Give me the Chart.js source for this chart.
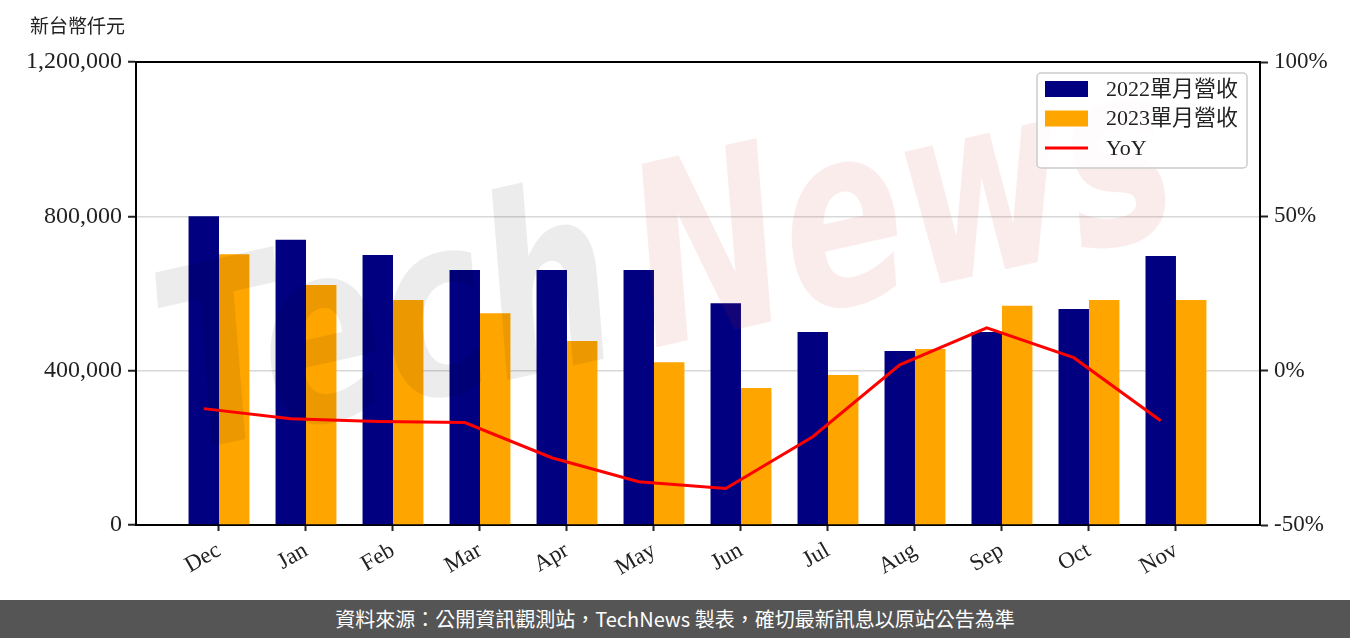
<!DOCTYPE html>
<html>
<head>
<meta charset="utf-8">
<script src="https://cdn.jsdelivr.net/npm/chart.js@4.4.1/dist/chart.umd.min.js"></script>
<style>
    body { margin: 0; background: #fff; }
    #wrap { width: 1350px; height: 600px; position: relative; }
    #footer {
        width: 1350px; height: 38px; background: #555555; color: #fff;
        font-family: "Noto Sans CJK TC", "Noto Sans", sans-serif; font-size: 20px;
        text-align: center; line-height: 38px;
    }
</style>
</head>
<body>
<div id="wrap"><canvas id="revenue-chart" width="1350" height="600"></canvas></div>
<div id="footer">資料來源：公開資訊觀測站，TechNews 製表，確切最新訊息以原站公告為準</div>
<script>
// Monthly revenue (NT$ thousand) and YoY (%)
const months = ["Dec", "Jan", "Feb", "Mar", "Apr", "May", "Jun", "Jul", "Aug", "Sep", "Oct", "Nov"];
const rev2022 = [800000, 739000, 700000, 661000, 661000, 661000, 575000, 500000, 451000, 500000, 560000, 697000];
const rev2023 = [702000, 622000, 583000, 549000, 477000, 422000, 355000, 389000, 456000, 568000, 583000, 583000];
const yoy = [-12.3, -15.6, -16.5, -16.8, -28.2, -36.0, -38.2, -21.4, 1.9, 13.9, 4.2, -16.2];
const leftTicks = [0, 400000, 800000, 1200000];
const rightTicks = [-50, 0, 50, 100];

const seriesNames = ["2022單月營收", "2023單月營收", "YoY"];
const seriesColors = ["#000080", "#FFA500", "#FF0000"];

const serif = "'Liberation Serif', 'Noto Sans CJK TC', serif";

// Function to format numbers with commas
function formatNumber(v) {
    return v.toLocaleString("en-US");
}

// Extra drawing: top spine, unit label, watermark, legend
const decorPlugin = {
    id: "decor",
    beforeDatasetDraw(chart, args) {
        if (args.index !== 2) return;
        const ctx = chart.ctx;
        ctx.save();
        ctx.font = "bold italic 250px 'DejaVu Sans', sans-serif";
        ctx.textBaseline = "middle";
        ctx.textAlign = "center";
        ctx.translate(390, 340);
        ctx.rotate(-0.22);
        ctx.scale(0.72, 1);
        ctx.fillStyle = "rgba(0,0,0,0.075)";
        ctx.fillText("Tech", 0, 0);
        ctx.restore();
        ctx.save();
        ctx.font = "bold italic 250px 'DejaVu Sans', sans-serif";
        ctx.textBaseline = "middle";
        ctx.textAlign = "center";
        ctx.translate(905, 225);
        ctx.rotate(-0.22);
        ctx.scale(0.72, 1);
        ctx.fillStyle = "rgba(210,40,40,0.09)";
        ctx.fillText("News", 0, 0);
        ctx.restore();
    },
    afterDraw(chart) {
        const ctx = chart.ctx;
        const area = chart.chartArea;
        ctx.save();
        // top spine
        ctx.strokeStyle = "#000";
        ctx.lineWidth = 2;
        ctx.beginPath();
        ctx.moveTo(area.left - 1, area.top);
        ctx.lineTo(area.right + 1, area.top);
        ctx.stroke();

        // unit label
        ctx.fillStyle = "#222";
        ctx.font = "19px " + serif;
        ctx.textBaseline = "middle";
        ctx.textAlign = "left";
        ctx.fillText("新台幣仟元", 30, 28);

        // legend
        const bx = 1037, by = 73, bw = 210, bh = 95;
        ctx.fillStyle = "rgba(255,255,255,0.85)";
        ctx.strokeStyle = "#cccccc";
        ctx.lineWidth = 1.5;
        ctx.beginPath();
        ctx.roundRect(bx, by, bw, bh, 4);
        ctx.fill();
        ctx.stroke();

        ctx.font = "22px " + serif;
        seriesNames.forEach((name, i) => {
            const cy = 89 + i * 29.5;
            if (i < 2) {
                ctx.fillStyle = seriesColors[i];
                ctx.fillRect(1045, cy - 8, 43, 16);
            } else {
                ctx.strokeStyle = seriesColors[i];
                ctx.lineWidth = 3;
                ctx.beginPath();
                ctx.moveTo(1045, cy);
                ctx.lineTo(1088, cy);
                ctx.stroke();
            }
            ctx.fillStyle = "#222";
            ctx.fillText(name, 1106, cy + 1);
        });
        ctx.restore();
    }
};

const ctx = document.getElementById("revenue-chart").getContext("2d");

new Chart(ctx, {
    type: "bar",
    data: {
        datasets: [
            {
                label: seriesNames[0],
                data: rev2022.map((v, i) => ({ x: i, y: v })),
                backgroundColor: seriesColors[0],
                categoryPercentage: 0.7,
                barPercentage: 1.0,
                yAxisID: "y",
                order: 2
            },
            {
                label: seriesNames[1],
                data: rev2023.map((v, i) => ({ x: i, y: v })),
                backgroundColor: seriesColors[1],
                categoryPercentage: 0.7,
                barPercentage: 1.0,
                yAxisID: "y",
                order: 2
            },
            {
                type: "line",
                label: seriesNames[2],
                data: yoy.map((v, i) => ({ x: i - 0.175, y: v })),
                borderColor: seriesColors[2],
                borderWidth: 3,
                pointRadius: 0,
                tension: 0,
                yAxisID: "y1",
                order: 1
            }
        ]
    },
    options: {
        responsive: false,
        animation: false,
        layout: { padding: { top: 62, left: 0, right: 0, bottom: 0 } },
        plugins: {
            legend: { display: false },
            tooltip: { enabled: false }
        },
        scales: {
            x: {
                type: "linear",
                offset: false,
                bounds: "data",
                min: -0.954,
                max: 11.966,
                afterBuildTicks: axis => { axis.ticks = months.map((m, i) => ({ value: i })); },
                afterFit: axis => { axis.height = 75; },
                ticks: {
                    autoSkip: false,
                    minRotation: 30,
                    maxRotation: 30,
                    padding: 6,
                    color: "#222",
                    font: { family: serif, size: 23 },
                    callback: v => months[v]
                },
                grid: { offset: false, drawOnChartArea: false, tickLength: 6, tickWidth: 2, tickColor: "#222" },
                border: { color: "#000", width: 2 }
            },
            y: {
                position: "left",
                min: 0,
                max: 1200000,
                afterBuildTicks: axis => { axis.ticks = leftTicks.map(v => ({ value: v })); },
                afterFit: axis => { axis.width = 136; },
                ticks: {
                    padding: 6,
                    color: "#222",
                    font: { family: serif, size: 24 },
                    callback: v => formatNumber(v)
                },
                grid: { color: "#d8d8d8", lineWidth: 1.5, tickLength: 8, tickWidth: 2, tickColor: "#222" },
                border: { color: "#000", width: 2 }
            },
            y1: {
                position: "right",
                min: -50,
                max: 100,
                afterBuildTicks: axis => { axis.ticks = rightTicks.map(v => ({ value: v })); },
                afterFit: axis => { axis.width = 90; },
                ticks: {
                    padding: 6,
                    color: "#222",
                    font: { family: serif, size: 23 },
                    callback: v => v + "%"
                },
                grid: { drawOnChartArea: false, tickLength: 8, tickWidth: 2, tickColor: "#222" },
                border: { color: "#000", width: 2 }
            }
        }
    },
    plugins: [decorPlugin]
});
</script>
</body>
</html>
